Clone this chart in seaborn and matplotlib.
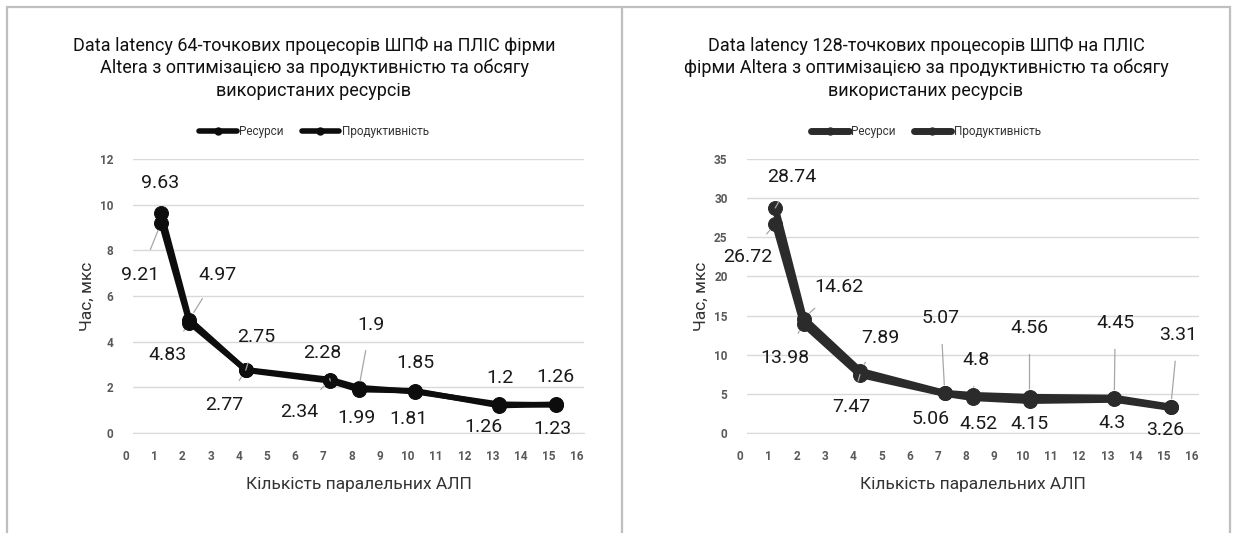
import matplotlib

matplotlib.use("Agg")

import matplotlib.pyplot as plt
import pandas as pd
import seaborn as sns
from matplotlib.lines import Line2D
from matplotlib.transforms import ScaledTranslation


ALU_COUNT = [1, 2, 4, 7, 8, 10, 13, 15]
LAT64_RES = [9.63, 4.97, 2.75, 2.28, 1.9, 1.85, 1.2, 1.26]
LAT64_PERF = [9.21, 4.83, 2.77, 2.34, 1.99, 1.81, 1.26, 1.23]
LAT128_RES = [28.74, 14.62, 7.89, 5.07, 4.8, 4.56, 4.45, 3.31]
LAT128_PERF = [26.72, 13.98, 7.47, 5.06, 4.52, 4.15, 4.3, 3.26]

SERIES = ["Ресурси", "Продуктивність"]
TITLE_64 = ("Data latency 64-точкових процесорів ШПФ на ПЛІС фірми\n"
            "Altera з оптимізацією за продуктивністю та обсягу\n"
            "використаних ресурсів")
TITLE_128 = ("Data latency 128-точкових процесорів ШПФ на ПЛІС\n"
             "фірми Altera з оптимізацією за продуктивністю та обсягу\n"
             "використаних ресурсів")
XLABEL = "Кількість паралельних АЛП"
YLABEL = "Час, мкс"

# label offsets from the point, in pixels (x right, y up), and leader flags
OFF64_RES = [(-1, 30), (28, 45), (10, 33), (-8, 28), (12, 65), (0, 28), (0, 28), (0, 27)]
OFF64_PERF = [(-21, -52), (-22, -32), (-21, -35), (-31, -32), (-2, -30), (-6, -27), (-16, -23), (-3, -24)]
LEAD64_RES = [0, 1, 1, 1, 1, 0, 0, 0]
LEAD64_PERF = [1, 1, 1, 1, 0, 0, 0, 0]
OFF128_RES = [(17, 31), (35, 32), (20, 33), (-4, 75), (3, 35), (0, 69), (1, 75), (7, 72)]
OFF128_PERF = [(-28, -33), (-19, -34), (-9, -32), (-14, -26), (5, -26), (0, -23), (-2, -24), (-6, -23)]
LEAD128_RES = [1, 1, 1, 1, 1, 1, 1, 1]
LEAD128_PERF = [1, 1, 1, 0, 0, 0, 0, 0]

W, H = 1234, 533
FONT = ["Roboto", "DejaVu Sans"]


def fx(px):
    return px / W


def fy(py):
    return 1 - py / H


def draw_panel(fig, rect, res, perf, off_res, off_perf, lead_res, lead_perf,
               color, lw, ymax, ystep, title, cx):
    ax = fig.add_axes(rect)
    df = pd.DataFrame({
        "x": ALU_COUNT * 2,
        "y": res + perf,
        "series": [SERIES[0]] * len(res) + [SERIES[1]] * len(perf),
    })
    sns.lineplot(data=df, x="x", y="y", hue="series", hue_order=SERIES,
                 palette=[color, color], marker="o", markersize=10,
                 markeredgecolor=color, linewidth=lw, legend=False, ax=ax)

    for vals, offs, leads in [(res, off_res, lead_res), (perf, off_perf, lead_perf)]:
        for xv, yv, (dx, dy), lead in zip(ALU_COUNT, vals, offs, leads):
            arrow = None
            if lead:
                arrow = dict(arrowstyle="-", color="#a6a6a6", lw=0.9,
                             shrinkA=10, shrinkB=6)
            ax.annotate(f"{yv:g}", (xv, yv), xytext=(dx, dy),
                        textcoords="offset pixels", ha="center", va="center",
                        fontsize=14, color="#1a1a1a", family=FONT,
                        arrowprops=arrow)

    ax.set_xlim(0, 16)
    ax.set_ylim(0, ymax)
    ax.set_xticks(range(0, 17))
    ax.set_yticks(range(0, ymax + 1, ystep))
    ax.grid(axis="y", color="#d9d9d9", lw=1)
    ax.set_axisbelow(True)
    for s in ["left", "right", "top"]:
        ax.spines[s].set_visible(False)
    ax.spines["bottom"].set_color("#d9d9d9")
    ax.tick_params(axis="x", length=4, color="#d9d9d9", pad=8)
    ax.tick_params(axis="y", length=0, pad=14)
    for lab in ax.get_xticklabels() + ax.get_yticklabels():
        lab.set_fontsize(8.5)
        lab.set_fontweight("bold")
        lab.set_color("#595959")
        lab.set_family(FONT)
    shift = ScaledTranslation(-5 / 72, 0, fig.dpi_scale_trans)
    for lab in ax.get_xticklabels():
        lab.set_transform(lab.get_transform() + shift)

    ax.set_xlabel(XLABEL, fontsize=12.5, color="#333333", family=FONT, labelpad=10)
    ax.set_ylabel(YLABEL, fontsize=12.5, color="#333333", family=FONT, labelpad=4)

    fig.text(cx, fy(68), title, ha="center", va="center", fontsize=13,
             color="#111111", family=FONT, linespacing=1.3)
    handles = [Line2D([], [], color=color, lw=lw, marker="o", markersize=5)
               for _ in SERIES]
    fig.legend(handles, SERIES, loc="center", bbox_to_anchor=(cx, fy(132)),
               ncol=2, frameon=False, handlelength=3.2, columnspacing=1.5,
               handletextpad=0.2, prop=dict(family=FONT, size=8.5),
               labelcolor="#333333")
    return ax


def main():
    sns.set_style("white")
    fig = plt.figure(figsize=(W / 100, H / 100), dpi=100)

    draw_panel(fig, [fx(133), fy(433), fx(584 - 133), (433 - 159) / H],
               LAT64_RES, LAT64_PERF, OFF64_RES, OFF64_PERF, LEAD64_RES, LEAD64_PERF,
               "#0d0d0d", 4, 12, 2, TITLE_64, fx(314))
    draw_panel(fig, [fx(747), fy(433), fx(1199 - 747), (433 - 159) / H],
               LAT128_RES, LAT128_PERF, OFF128_RES, OFF128_PERF, LEAD128_RES, LEAD128_PERF,
               "#2b2b2b", 5, 35, 5, TITLE_128, fx(926))

    border = "#bfbfbf"
    for xs, ys in [([7, 7], [7, 533]), ([7, 1230], [7, 7]), ([622, 622], [7, 533]),
                   ([1230, 1230], [7, 533])]:
        fig.add_artist(Line2D([fx(v) for v in xs], [fy(v) for v in ys],
                              color=border, lw=1.6, transform=fig.transFigure))

    fig.savefig("out.png", dpi=100)
    plt.close(fig)


if __name__ == "__main__":
    main()
